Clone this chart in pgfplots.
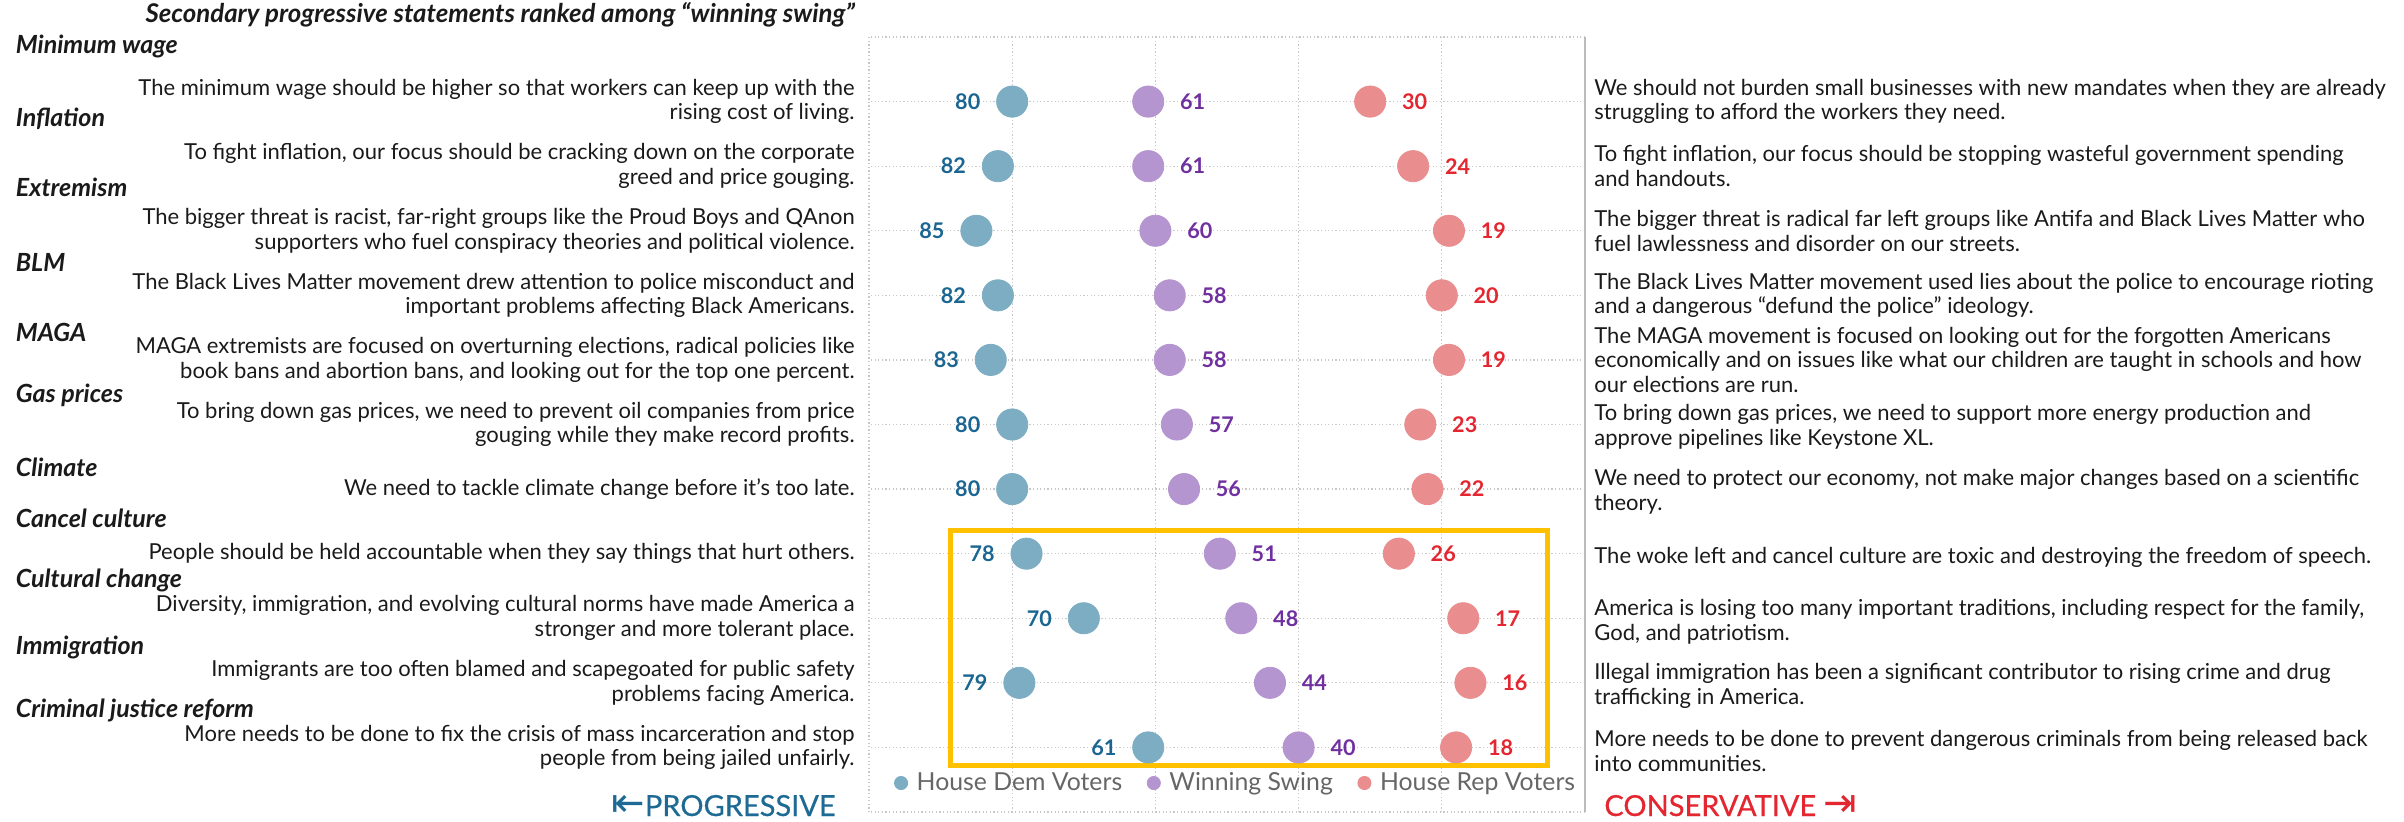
\documentclass[border=0pt]{standalone}
\usepackage{pgfplots}
\pgfplotsset{compat=1.18}
\usepackage{fontspec}
\setmainfont{Lato}
\newfontfamily\arrowfont{DejaVu Sans}
\newfontfamily\medfont[FakeBold=0.5]{Lato}
\definecolor{demfill}{HTML}{7DADC3}
\definecolor{demtext}{HTML}{1A6591}
\definecolor{swingfill}{HTML}{B595D0}
\definecolor{swingtext}{HTML}{7030A0}
\definecolor{repfill}{HTML}{E98D8F}
\definecolor{reptext}{HTML}{E3262F}
\definecolor{progblue}{HTML}{1D6A95}
\definecolor{gridgray}{HTML}{C8C8C8}
\definecolor{bordergray}{HTML}{BBBBBB}
\definecolor{boxyellow}{HTML}{FFC000}
\definecolor{legendgray}{HTML}{666666}
\definecolor{txt}{HTML}{1A1A1A}
\newcommand\stmt{\fontsize{11}{12.3}\selectfont}
\newcommand\cat{\bfseries\itshape\fontsize{12.5}{14}\selectfont}
\newcommand\bigarrow[1]{{\arrowfont\fontsize{20}{20}\selectfont #1}}
\begin{document}
\begin{tikzpicture}
\path[use as bounding box] (0pt,0pt) rectangle (1202pt,-411pt);
\begin{axis}[
  at={(434.5pt,-18.5pt)}, anchor=north west,
  width=358pt, height=387.5pt, scale only axis,
  xmin=0, xmax=100, x dir=reverse,
  ymin=0, ymax=12, y dir=reverse,
  xtick={0,20,...,100}, ytick={0,1,...,12},
  xticklabels={}, yticklabels={},
  major tick length=0pt,
  grid=major,
  major grid style={color=gridgray, line width=0.65pt, dash pattern=on 0.65pt off 1.15pt},
  axis line style={draw=none},
  clip=false,
  /pgf/number format/assume math mode=true,
  point meta=x,
  nodes near coords,
  every node near coord/.append style={font=\bfseries\fontsize{10.8}{12}\selectfont, inner sep=0pt},
  legend columns=3,
  legend image code/.code={\draw[mark repeat=2,mark phase=2,#1,mark size=3.3pt] plot coordinates {(0pt,0pt) (3.3pt,0pt) (6.6pt,0pt)};},
  legend style={at={(0.513,0.0374)}, anchor=center, draw=none, fill=none,
    font=\fontsize{12.4}{14}\selectfont, text=legendgray, inner sep=0pt,
    nodes={inner sep=1.5pt},
    /tikz/every odd column/.append style={column sep=3pt},
    /tikz/every even column/.append style={column sep=11pt}},
]
\addplot[only marks, mark=*, mark size=7.8pt, color=demfill,
  nodes near coords style={anchor=east, xshift=-15.75pt, text=demtext}]
  coordinates {(80,1) (82,2) (85,3) (82,4) (83,5) (80,6) (80,7) (78,8) (70,9) (79,10) (61,11)};
\addlegendentry{House Dem Voters}
\addplot[only marks, mark=*, mark size=7.8pt, color=swingfill,
  nodes near coords style={anchor=west, xshift=15.75pt, text=swingtext}]
  coordinates {(61,1) (61,2) (60,3) (58,4) (58,5) (57,6) (56,7) (51,8) (48,9) (44,10) (40,11)};
\addlegendentry{Winning Swing}
\addplot[only marks, mark=*, mark size=7.8pt, color=repfill,
  nodes near coords style={anchor=west, xshift=15.75pt, text=reptext}]
  coordinates {(30,1) (24,2) (19,3) (20,4) (19,5) (23,6) (22,7) (26,8) (17,9) (16,10) (18,11)};
\addlegendentry{House Rep Voters}
\draw[color=bordergray, line width=0.75pt] (axis cs:0,0) -- (axis cs:0,12);
\draw[color=boxyellow, line width=2.75pt] (axis cs:88.62,7.64) rectangle (axis cs:5.24,11.28);
\end{axis}
\begin{scope}[x=0.5pt, y=-0.5pt]
% subtitle
\node[anchor=base east, inner sep=0pt, font=\bfseries\itshape\fontsize{12.9}{14}\selectfont, text=txt] at (855,23) {Secondary progressive statements ranked among “winning swing”};
% category labels
\foreach \yy/\lab in {54/Minimum wage, 127/Inflation, 197/Extremism, 272/BLM, 342/MAGA, 403/Gas prices, 477/Climate, 528/Cancel culture, 588/Cultural change, 655/Immigration, 718/Criminal justice reform}
  {\node[anchor=base west, inner sep=0pt, font=\cat, text=txt] at (15.5,\yy) {\lab};}
% left statements
\begin{scope}[every node/.style={anchor=east, align=right, inner sep=0pt, font=\stmt, text=txt}]
\node at (855,101.6) {The minimum wage should be higher so that workers can keep up with the\\rising cost of living.};
\node at (855,166.2) {To fight inflation, our focus should be cracking down on the corporate\\greed and price gouging.};
\node at (855,230.7) {The bigger threat is racist, far-right groups like the Proud Boys and QAnon\\supporters who fuel conspiracy theories and political violence.};
\node at (855,295.3) {The Black Lives Matter movement drew attention to police misconduct and\\important problems affecting Black Americans.};
\node at (855,359.9) {MAGA extremists are focused on overturning elections, radical policies like\\book bans and abortion bans, and looking out for the top one percent.};
\node at (855,424.5) {To bring down gas prices, we need to prevent oil companies from price\\gouging while they make record profits.};
\node at (855,489.1) {We need to tackle climate change before it's too late.};
\node at (855,553.6) {People should be held accountable when they say things that hurt others.};
\node at (855,618.2) {Diversity, immigration, and evolving cultural norms have made America a\\stronger and more tolerant place.};
\node at (855,682.8) {Immigrants are too often blamed and scapegoated for public safety\\problems facing America.};
\node at (855,747.4) {More needs to be done to fix the crisis of mass incarceration and stop\\people from being jailed unfairly.};
\end{scope}
% right statements
\begin{scope}[every node/.style={anchor=west, align=left, inner sep=0pt, font=\stmt, text=txt}]
\node at (1594,101.6) {We should not burden small businesses with new mandates when they are already\\struggling to afford the workers they need.};
\node at (1594,166.2) {To fight inflation, our focus should be stopping wasteful government spending\\and handouts.};
\node at (1594,230.7) {The bigger threat is radical far left groups like Antifa and Black Lives Matter who\\fuel lawlessness and disorder on our streets.};
\node at (1594,295.3) {The Black Lives Matter movement used lies about the police to encourage rioting\\and a dangerous “defund the police” ideology.};
\node at (1594,359.9) {The MAGA movement is focused on looking out for the forgotten Americans\\economically and on issues like what our children are taught in schools and how\\our elections are run.};
\node at (1594,427) {To bring down gas prices, we need to support more energy production and\\approve pipelines like Keystone XL.};
\node at (1594,492) {We need to protect our economy, not make major changes based on a scientific\\theory.};
\node at (1594,557) {The woke left and cancel culture are toxic and destroying the freedom of speech.};
\node at (1594,622) {America is losing too many important traditions, including respect for the family,\\God, and patriotism.};
\node at (1594,686) {Illegal immigration has been a significant contributor to rising crime and drug\\trafficking in America.};
\node at (1594,751) {More needs to be done to prevent dangerous criminals from being released back\\into communities.};
\end{scope}
% direction labels
\node[anchor=base east, inner sep=0pt, text=progblue, font=\medfont\fontsize{14.5}{16}\selectfont] at (836,816) {\bigarrow{⇤}PROGRESSIVE};
\node[anchor=base west, inner sep=0pt, text=reptext, font=\medfont\fontsize{14.5}{16}\selectfont] at (1604,816) {CONSERVATIVE \bigarrow{⇥}};
\end{scope}
\end{tikzpicture}
\end{document}
